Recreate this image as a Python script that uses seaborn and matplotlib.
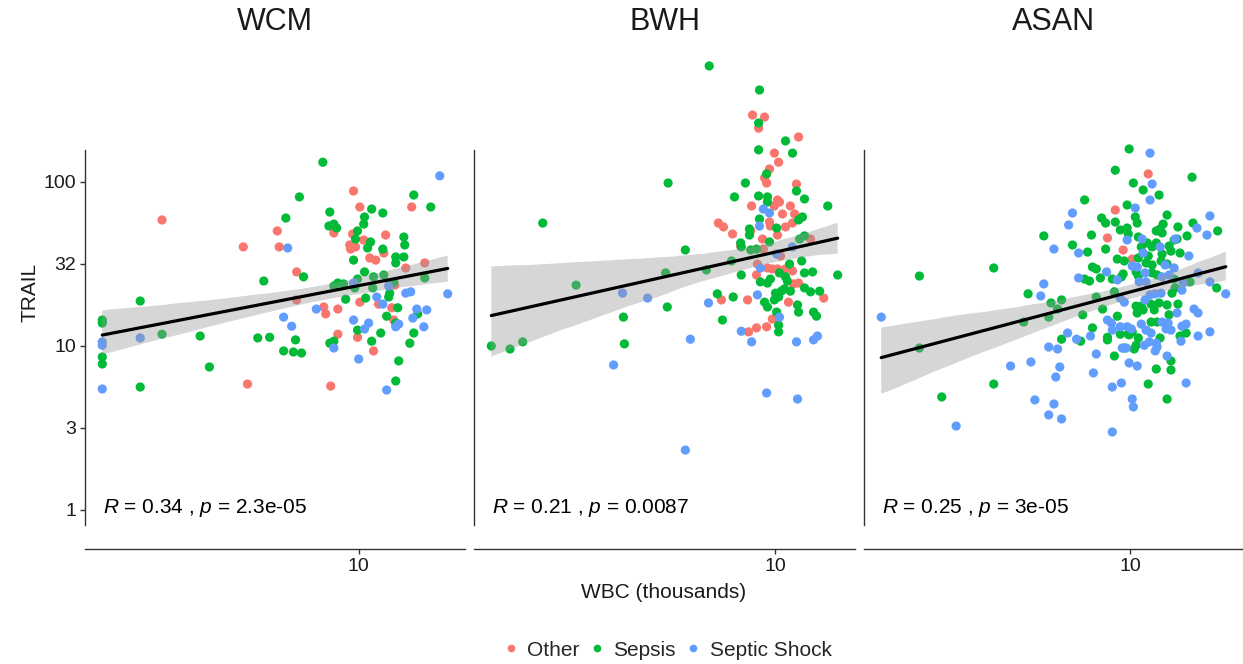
import numpy as np
import pandas as pd
import matplotlib
matplotlib.use("Agg")
import matplotlib.pyplot as plt
import seaborn as sns
from matplotlib.lines import Line2D
from matplotlib.collections import PolyCollection

# ---------------- data (WBC in thousands, TRAIL) ----------------
sites = ["WCM", "BWH", "ASAN"]
groups = ["Other", "Sepsis", "Septic Shock"]
palette = ["#F8766D", "#00BA38", "#619CFF"]
r_labels = ["0.34", "0.21", "0.25"]
p_labels = ["2.3e-05", "0.0087", "3e-05"]
y_tick_values = [1, 10 ** 0.5, 10, 10 ** 1.5, 100]
y_tick_labels = ["1", "3", "10", "32", "100"]
x_tick_values = [10]
x_tick_labels = ["10"]

wcm_other = [(4.99, 58.7), (9.82, 88.1), (10.04, 70.4), (12.06, 70.4), (7.50, 50.3), (9.16, 48.9),
             (9.79, 48.2), (11.0, 47.5), (10.18, 44.3), (6.65, 40.2), (7.55, 40.2), (9.69, 41.3),
             (9.72, 39.0), (9.89, 40.2), (10.93, 36.9), (10.40, 34.4), (10.62, 33.4), (12.63, 32.1),
             (11.81, 29.9), (8.03, 28.3), (11.36, 23.5), (8.03, 19.1), (10.04, 18.5), (10.73, 18.0),
             (8.84, 17.3), (9.29, 16.8), (11.24, 17.1), (8.90, 15.7), (11.32, 14.4), (9.29, 11.8),
             (9.96, 11.3), (10.54, 9.33), (6.75, 5.86), (9.06, 5.70)]
wcm_sepsis = [(8.81, 132), (12.15, 83.3), (8.11, 81.1), (12.90, 70.4), (10.47, 68.4), (9.03, 65.6),
              (10.89, 64.7), (7.73, 60.3), (10.21, 61.2), (10.18, 55.4), (9.00, 53.9), (9.16, 55.4),
              (9.25, 52.4), (9.96, 50.3), (11.73, 46.2), (9.89, 44.9), (10.43, 43.1), (11.77, 41.3),
              (10.32, 39.6), (10.89, 39.0), (11.40, 34.9), (11.73, 34.9), (9.82, 33.4), (11.40, 32.1),
              (10.21, 28.3), (8.23, 26.4), (7.15, 24.9), (12.63, 26.0), (9.16, 23.2), (9.29, 24.2),
              (9.48, 23.9), (9.96, 25.6), (10.54, 26.4), (10.93, 27.1), (9.86, 22.6), (10.51, 22.6),
              (11.16, 21.0), (11.12, 19.9), (10.25, 19.6), (9.55, 19.3), (4.62, 18.8), (11.48, 17.1),
              (12.32, 15.7), (11.04, 15.2), (4.04, 14.4), (4.04, 13.8), (11.40, 13.8), (9.96, 12.5),
              (12.15, 12.0), (10.81, 12.0), (4.99, 11.8), (5.71, 11.5), (4.62, 5.62), (5.90, 7.45),
              (7.00, 11.2), (7.30, 11.3), (8.00, 10.9), (7.67, 9.33), (7.94, 9.19), (8.17, 9.06),
              (9.03, 10.4), (9.16, 10.7), (4.04, 8.57), (4.04, 7.77), (10.47, 10.7), (11.98, 10.4),
              (11.52, 8.11), (11.40, 6.12), (11.16, 24.2), (11.32, 24.5)]
wcm_shock = [(13.32, 109), (7.78, 39.6), (11.12, 23.2), (13.70, 20.8), (11.81, 21.0), (12.02, 21.4),
             (10.66, 19.9), (10.89, 18.0), (8.61, 16.8), (12.28, 16.8), (12.72, 16.6), (7.67, 15.0),
             (12.11, 14.8), (9.82, 14.4), (10.36, 13.8), (11.52, 13.6), (7.89, 13.2), (12.59, 13.1),
             (10.21, 12.7), (4.62, 11.2), (4.04, 10.6), (4.04, 10.1), (4.04, 5.47), (9.16, 9.72),
             (10.0, 8.33), (11.40, 13.1), (11.04, 5.39), (9.82, 24.2)]

bwh_other = [(9.22, 256), (9.62, 249), (9.42, 213), (10.85, 188), (9.96, 150), (10.11, 132),
             (9.79, 120), (9.62, 106), (9.69, 98.6), (10.77, 97.2), (10.07, 77.7), (10.14, 75.5),
             (9.19, 71.4), (9.96, 71.4), (10.54, 71.4), (10.25, 63.8), (10.70, 63.8), (8.17, 56.2),
             (8.32, 53.2), (9.79, 57.0), (9.82, 53.9), (10.62, 56.2), (10.36, 53.2), (9.16, 50.3),
             (10.07, 47.5), (8.59, 48.2), (9.55, 44.9), (11.32, 44.9), (8.84, 40.7), (9.58, 39.0),
             (10.18, 35.4), (9.38, 31.6), (9.72, 29.9), (9.89, 29.5), (10.07, 29.5), (10.36, 29.5),
             (9.35, 27.1), (10.62, 28.7), (10.66, 23.9), (10.85, 24.2), (8.26, 19.1), (9.06, 19.1),
             (10.47, 18.5), (11.86, 19.6), (9.89, 14.6), (9.69, 13.1), (9.35, 12.9), (9.09, 12.2)]
bwh_sepsis = [(7.91, 510), (9.45, 364), (9.42, 229), (10.36, 178), (9.42, 157), (10.62, 150),
              (9.69, 112), (10.77, 88.1), (6.84, 98.6), (8.99, 98.6), (8.65, 81.1), (9.42, 82.2),
              (9.72, 81.1), (9.72, 75.5), (11.08, 78.8), (12.03, 71.4), (9.45, 59.5), (10.85, 58.7),
              (11.00, 61.2), (4.39, 56.2), (10.04, 52.4), (9.12, 51.7), (9.12, 47.5), (8.84, 42.5),
              (8.86, 40.2), (9.79, 43.1), (10.89, 44.9), (11.08, 46.9), (7.27, 38.5), (9.16, 38.5),
              (9.35, 39.0), (8.56, 33.0), (10.51, 31.6), (10.97, 33.0), (6.78, 27.9), (7.83, 29.1),
              (4.94, 23.5), (8.86, 27.1), (10.14, 27.9), (11.08, 27.9), (11.40, 28.3), (12.46, 27.1),
              (9.48, 24.6), (9.72, 24.2), (9.82, 25.6), (10.36, 26.4), (10.43, 24.9), (10.21, 21.6),
              (10.0, 21.0), (10.11, 19.9), (9.96, 19.1), (10.32, 22.3), (10.54, 21.6), (11.08, 22.6),
              (11.32, 21.4), (11.69, 21.6), (8.14, 20.8), (8.61, 19.9), (6.82, 17.3), (9.62, 18.5),
              (9.72, 17.3), (10.81, 17.8), (10.85, 16.1), (10.04, 16.1), (11.44, 16.1), (11.56, 15.2),
              (5.84, 15.0), (8.29, 14.4), (10.11, 13.4), (10.11, 12.2), (5.86, 10.3), (3.66, 10.0),
              (3.91, 9.59), (4.09, 10.6)]
bwh_shock = [(9.58, 68.4), (9.79, 64.7), (9.45, 53.9), (10.62, 40.2), (10.04, 36.4), (9.48, 29.9),
             (5.82, 21.0), (6.36, 19.6), (9.38, 20.5), (7.89, 18.3), (10.14, 15.0), (5.64, 7.66),
             (7.40, 11.0), (8.86, 12.3), (9.19, 10.6), (10.77, 10.6), (11.44, 10.9), (11.60, 11.5),
             (9.69, 5.17), (10.81, 4.75), (7.27, 2.32)]

asan_other = [(9.48, 67.5), (10.66, 112), (9.22, 45.6), (9.75, 38.5), (10.07, 33.9)]
asan_sepsis = [(4.72, 26.7), (6.15, 29.9), (5.11, 4.89), (6.15, 5.86), (4.72, 9.72), (6.84, 14.0),
               (6.95, 20.8), (7.48, 15.0), (7.54, 18.3), (7.72, 16.8), (7.83, 19.1), (7.35, 46.9),
               (8.14, 41.3), (8.59, 37.4), (8.71, 47.5), (9.03, 60.3), (9.16, 56.2), (9.48, 118),
               (9.96, 159), (10.11, 98.6), (10.47, 89.4), (11.08, 83.3), (12.46, 107), (8.50, 77.7),
               (9.89, 72.4), (11.40, 62.9), (9.48, 57.0), (10.18, 61.2), (10.25, 56.2), (12.50, 56.2),
               (11.24, 55.4), (11.12, 51.7), (10.97, 50.3), (11.20, 48.9), (11.85, 53.2), (9.65, 51.0),
               (9.89, 52.4), (9.93, 48.2), (10.29, 46.2), (12.24, 46.9), (13.65, 50.3), (9.16, 39.0),
               (10.40, 40.2), (10.62, 42.5), (10.81, 40.2), (10.97, 42.5), (11.48, 40.7), (11.69, 44.3),
               (11.81, 44.9), (11.20, 36.4), (11.56, 37.9), (11.94, 36.9), (9.55, 33.9), (9.79, 33.0),
               (10.29, 34.4), (10.66, 35.4), (10.58, 32.1), (10.81, 31.2), (11.16, 33.0), (11.40, 31.6),
               (8.74, 30.3), (8.86, 29.5), (8.99, 26.0), (9.38, 25.6), (8.50, 25.6), (8.65, 24.9),
               (9.69, 26.4), (9.75, 27.5), (10.21, 28.3), (10.29, 26.7), (10.81, 27.9), (11.00, 27.1),
               (11.69, 25.6), (12.37, 24.6), (13.60, 22.6), (8.44, 15.5), (9.06, 16.8), (8.86, 19.9),
               (9.45, 21.4), (9.55, 15.2), (8.74, 12.9), (7.83, 11.0), (8.38, 10.7), (9.22, 11.3),
               (9.22, 10.9), (9.65, 11.8), (9.93, 11.8), (10.07, 12.2), (10.21, 17.5), (10.25, 15.9),
               (10.40, 17.5), (10.47, 16.6), (10.77, 18.0), (10.89, 16.6), (11.08, 18.3), (11.60, 21.0),
               (11.73, 22.6), (11.40, 17.8), (11.85, 18.0), (11.48, 15.5), (10.77, 14.0), (11.00, 14.0),
               (12.20, 12.0), (11.94, 11.5), (11.12, 11.2), (10.29, 11.2), (10.21, 10.1), (10.14, 9.59),
               (9.96, 11.7), (9.79, 9.72), (11.56, 8.11), (11.56, 7.14), (10.97, 7.24), (9.45, 8.69),
               (10.66, 5.86), (11.40, 4.75)]
asan_shock = [(4.12, 15.0), (5.38, 3.25), (6.53, 7.55), (7.02, 7.99), (7.27, 20.2), (7.35, 23.9),
              (7.62, 39.0), (8.03, 54.7), (8.14, 64.7), (8.32, 36.9), (10.73, 150), (10.81, 97.2),
              (10.73, 77.7), (10.18, 69.4), (13.28, 62.1), (12.68, 52.4), (9.89, 44.3), (13.14, 47.5),
              (10.43, 44.9), (11.12, 40.2), (11.73, 44.9), (12.32, 35.4), (10.47, 36.9), (10.07, 30.7),
              (10.25, 30.3), (11.32, 31.2), (11.69, 29.9), (9.19, 28.3), (8.32, 26.0), (9.55, 25.3),
              (10.54, 27.9), (10.32, 24.6), (10.58, 24.6), (11.20, 26.4), (11.48, 27.1), (12.06, 24.2),
              (12.73, 27.9), (13.28, 24.6), (9.65, 19.6), (9.79, 18.5), (9.22, 14.4), (9.35, 13.8),
              (9.65, 13.1), (9.89, 13.1), (10.04, 12.7), (9.38, 12.5), (8.00, 12.0), (8.26, 11.0),
              (8.68, 11.5), (10.54, 19.1), (10.73, 20.5), (10.93, 20.8), (11.16, 21.0), (11.81, 15.9),
              (10.40, 13.6), (10.58, 12.5), (10.77, 12.0), (11.20, 14.0), (11.44, 13.8), (11.36, 12.7),
              (11.56, 12.5), (12.02, 21.9), (14.05, 20.8), (12.55, 16.8), (12.73, 15.9), (12.02, 13.2),
              (12.20, 13.6), (12.73, 11.5), (13.28, 12.2), (11.98, 10.7), (10.70, 10.6), (10.51, 10.1),
              (10.97, 10.4), (9.86, 9.72), (9.72, 9.72), (10.93, 9.33), (11.00, 9.86), (11.40, 8.69),
              (9.96, 7.88), (10.25, 7.55), (8.86, 8.94), (7.48, 9.86), (7.72, 9.59), (7.78, 7.45),
              (7.67, 6.47), (8.77, 6.85), (9.38, 5.62), (9.69, 5.95), (12.20, 5.95), (7.12, 4.69),
              (7.62, 4.43), (7.48, 3.80), (7.83, 3.59), (10.07, 4.75), (10.11, 4.25), (9.38, 2.99)]

site_data = {
    "WCM": [wcm_other, wcm_sepsis, wcm_shock],
    "BWH": [bwh_other, bwh_sepsis, bwh_shock],
    "ASAN": [asan_other, asan_sepsis, asan_shock],
}

rows = []
for site in sites:
    for grp, pts in zip(groups, site_data[site]):
        for wbc, trail in pts:
            rows.append({"site": site, "group": grp, "WBC": wbc, "TRAIL": trail})
df = pd.DataFrame(rows)
df["lx"] = np.log10(df["WBC"])
df["ly"] = np.log10(df["TRAIL"])

# ---------------- styling ----------------
sns.set_theme(style="white")
plt.rcParams["font.family"] = ["Liberation Sans", "DejaVu Sans"]
plt.rcParams["mathtext.fontset"] = "custom"
plt.rcParams["mathtext.rm"] = "Liberation Sans"
plt.rcParams["mathtext.it"] = "Liberation Sans:italic"

W, H = 1243, 664
fig = plt.figure(figsize=(W / 100, H / 100), dpi=100)
panels = [(85, 465), (474, 855), (864, 1243)]
top_px, bot_px = 45, 525
px_per_dec = 164.0
y_bottom = -(bot_px - 510) / px_per_dec
y_top = y_bottom + (bot_px - top_px) / px_per_dec
spine_top = (510 - 150) / px_per_dec
axis_color = "#333333"

for i, site in enumerate(sites):
    l, r = panels[i]
    ax = fig.add_axes([l / W, 1 - bot_px / H, (r - l) / W, (bot_px - top_px) / H])
    sub = df[df["site"] == site]
    sns.scatterplot(data=sub, x="lx", y="ly", hue="group", hue_order=groups,
                    palette=palette, s=44, linewidth=0, legend=False, ax=ax)
    sns.regplot(data=sub, x="lx", y="ly", scatter=False, ci=95, n_boot=1000, seed=3,
                color="black", line_kws={"lw": 2.3}, ax=ax)
    for coll in ax.collections:
        if isinstance(coll, PolyCollection):
            coll.set_alpha(None)
            coll.set_facecolor((0.6, 0.6, 0.6, 0.4))
            coll.set_edgecolor("none")
    ax.set_ylim(y_bottom, y_top)
    ax.margins(x=0.05)
    ax.set_xlabel("")
    ax.set_ylabel("")
    for s in ["top", "right"]:
        ax.spines[s].set_visible(False)
    ax.spines["left"].set_bounds(y_bottom, spine_top)
    ax.spines["bottom"].set_position(("outward", 24 * 0.72))
    for s in ["left", "bottom"]:
        ax.spines[s].set_color(axis_color)
        ax.spines[s].set_linewidth(1.0)
    ax.set_xticks(np.log10(x_tick_values))
    ax.set_xticklabels(x_tick_labels)
    ax.tick_params(axis="x", bottom=True, direction="out", length=3.5, width=1.0,
                   color=axis_color, labelsize=14, labelcolor="#1a1a1a", pad=3)
    if i == 0:
        ax.set_yticks(np.log10(y_tick_values))
        ax.set_yticklabels(y_tick_labels)
        ax.tick_params(axis="y", left=True, direction="out", length=3.5, width=1.0,
                       color=axis_color, labelsize=14, labelcolor="#1a1a1a", pad=3)
    else:
        ax.set_yticks([])
    ax.text(18 / (r - l), (bot_px - 508) / (bot_px - top_px),
            rf"$R$ = {r_labels[i]} , $p$ = {p_labels[i]}",
            transform=ax.transAxes, ha="left", va="center", fontsize=15, color="black")
    fig.text((l + r) / 2 / W, 1 - 22 / H, site, ha="center", va="center",
             fontsize=22, color="#1a1a1a")

fig.text(664 / W, 1 - 593 / H, "WBC (thousands)", ha="center", va="center",
         fontsize=15, color="#1a1a1a")
fig.text(30 / W, 1 - 292 / H, "TRAIL", rotation=90, ha="center", va="center",
         fontsize=15, color="#1a1a1a")

handles = [Line2D([], [], marker="o", ls="", color=c, markersize=5.5, markeredgewidth=0)
           for c in palette]
fig.legend(handles, groups, loc="center", bbox_to_anchor=(667 / W, 1 - 650 / H), ncol=3,
           frameon=False, fontsize=15, handlelength=0.8, handletextpad=0.4,
           columnspacing=0.42, borderaxespad=0)

fig.savefig("out.png", dpi=100)
